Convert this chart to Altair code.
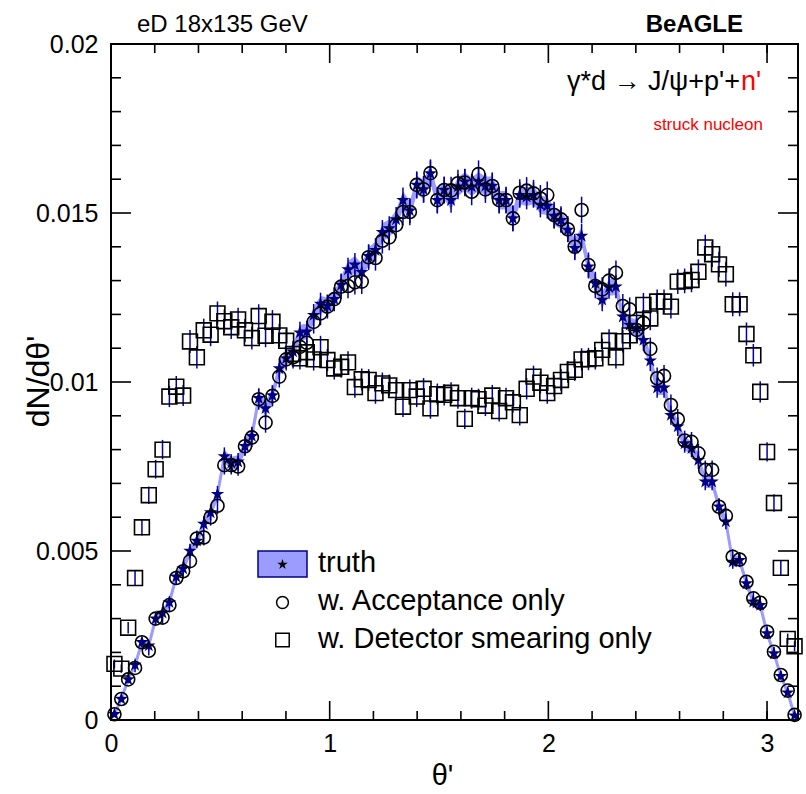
import math
import altair as alt
import pandas as pd

# ---------------- data ----------------
N_BINS = 100
THETA_MAX = math.pi

truth = [
    0.00017, 0.00062, 0.0012, 0.00163, 0.0023, 0.0022, 0.0030, 0.00317, 0.00348, 0.00424,
    0.00448, 0.0050, 0.0053, 0.0058, 0.00614, 0.00668, 0.0078, 0.0076, 0.00764, 0.0081,
    0.0084, 0.00952, 0.00922, 0.0096, 0.0104, 0.0107, 0.0109, 0.01146, 0.01149, 0.01198,
    0.01231, 0.01225, 0.01245, 0.01287, 0.01333, 0.01347, 0.01325, 0.01372, 0.0139, 0.01443,
    0.01454, 0.01481, 0.01538, 0.01507, 0.01583, 0.0157, 0.01617, 0.01538, 0.01568, 0.01538,
    0.01578, 0.01593, 0.01578, 0.01593, 0.0158, 0.0158, 0.01538, 0.01538, 0.01484, 0.01553,
    0.01548, 0.01553, 0.01524, 0.01521, 0.01491, 0.01479, 0.0145, 0.01396, 0.01432, 0.01341,
    0.01292, 0.01243, 0.0128, 0.01282, 0.01193, 0.01169, 0.01159, 0.01124, 0.01063, 0.00983,
    0.00983, 0.00902, 0.00868, 0.00818, 0.00804, 0.00769, 0.00705, 0.00705, 0.00631, 0.00587,
    0.00468, 0.00473, 0.00404, 0.0035, 0.0034, 0.00256, 0.00197, 0.0013, 0.00081, 0.00013,
]

acceptance = [
    0.00017, 0.00062, 0.0012, 0.00154, 0.0023, 0.00205, 0.0030, 0.00303, 0.0034, 0.0042,
    0.0044, 0.0047, 0.00537, 0.0054, 0.0060, 0.00634, 0.00754, 0.00754, 0.0075, 0.0081,
    0.00836, 0.00949, 0.0088, 0.00959, 0.01016, 0.01067, 0.01073, 0.01104, 0.01116, 0.01178,
    0.01203, 0.01223, 0.01245, 0.01282, 0.01284, 0.01295, 0.01297, 0.01369, 0.01367, 0.01418,
    0.01428, 0.01464, 0.01503, 0.01503, 0.01583, 0.0157, 0.01618, 0.01538, 0.01568, 0.01567,
    0.01588, 0.0159, 0.01563, 0.01615, 0.0157, 0.0158, 0.01538, 0.01538, 0.01484, 0.0156,
    0.01566, 0.01558, 0.01543, 0.01553, 0.01494, 0.01481, 0.01452, 0.0140, 0.01509, 0.01346,
    0.01284, 0.01274, 0.0130, 0.01323, 0.01225, 0.01215, 0.01154, 0.01175, 0.01098, 0.01011,
    0.01018, 0.00932, 0.0089, 0.00827, 0.00823, 0.00789, 0.0074, 0.0074, 0.00631, 0.00604,
    0.00483, 0.00475, 0.00409, 0.0036, 0.00347, 0.00261, 0.00202, 0.00133, 0.00087, 0.00015,
]

smearing = [
    0.00166, 0.00152, 0.00273, 0.0042, 0.0057, 0.00665, 0.00742, 0.0080, 0.00957, 0.00986,
    0.0096, 0.0112, 0.01073, 0.01153, 0.0114, 0.01203, 0.0118, 0.01162, 0.01185, 0.01153,
    0.0113, 0.01195, 0.01137, 0.01178, 0.01138, 0.01122, 0.01083, 0.0107, 0.01088, 0.01067,
    0.01103, 0.01065, 0.0104, 0.01045, 0.01058, 0.00985, 0.01008, 0.01006, 0.00967, 0.00996,
    0.0099, 0.00976, 0.00927, 0.00976, 0.00957, 0.0098, 0.00922, 0.00964, 0.00962, 0.00968,
    0.00952, 0.00891, 0.00952, 0.00949, 0.0093, 0.0096, 0.00914, 0.00952, 0.0094, 0.00902,
    0.0098, 0.01016, 0.00998, 0.00967, 0.00988, 0.01006, 0.0103, 0.01036, 0.01067, 0.01068,
    0.0107, 0.01095, 0.01122, 0.01073, 0.01121, 0.01138, 0.01175, 0.01228, 0.01188, 0.01238,
    0.01238, 0.01223, 0.01297, 0.01299, 0.01302, 0.01326, 0.01398, 0.01378, 0.01348, 0.01319,
    0.0123, 0.0123, 0.01142, 0.01079, 0.00971, 0.00793, 0.00642, 0.0045, 0.0024, 0.00218,
]

x_major = [0, 1, 2, 3]
x_minor = [0.2, 0.4, 0.6, 0.8, 1.2, 1.4, 1.6, 1.8, 2.2, 2.4, 2.6, 2.8, 3.0]
y_major = [0, 0.005, 0.01, 0.015, 0.02]
y_minor = [0.001, 0.002, 0.003, 0.004, 0.006, 0.007, 0.008, 0.009, 0.011, 0.012,
           0.013, 0.014, 0.016, 0.017, 0.018, 0.019]
legend_labels = ["truth", "w. Acceptance only", "w. Detector smearing only"]

# ---------------- styling ----------------
W, H = 687, 676
FONT = "Liberation Sans"
BAND = "#9c9cff"
NAVY = "#000080"
ERRC = "#0000a8"
STAR = ("M0,-1L0.225,-0.309L0.951,-0.309L0.363,0.118L0.588,0.809L0,0.382"
        "L-0.588,0.809L-0.363,0.118L-0.951,-0.309L-0.225,-0.309Z")

theta = [(i + 0.5) * THETA_MAX / N_BINS for i in range(N_BINS)]
df = pd.DataFrame({"theta": theta, "truth": truth, "acc": acceptance, "smear": smearing})

xs = alt.Scale(domain=[0, THETA_MAX], nice=False, zero=False)
ys = alt.Scale(domain=[0, 0.02], nice=False)

X_AX = alt.Axis(
    values=x_major, format="d", title="θ'", ticks=False, domain=False, grid=False,
    labelFlush=False, labelOverlap=False,
    labelFont=FONT, labelFontSize=25, labelColor="black", labelPadding=11,
    titleFont=FONT, titleFontSize=29, titleFontWeight="normal", titleColor="black",
    titleX=331, titleY=55, titleBaseline="middle", titleAlign="center")
Y_AX = alt.Axis(
    values=y_major, format="~g", title="dN/dθ'", ticks=False, domain=False, grid=False,
    labelFlush=False, labelOverlap=False,
    labelFont=FONT, labelFontSize=25, labelColor="black", labelPadding=13,
    titleFont=FONT, titleFontSize=32, titleFontWeight="normal", titleColor="black",
    titleX=-73, titleY=337, titleBaseline="middle", titleAlign="center", titleAngle=-90)


def xq(field):
    return alt.X(field, scale=xs, axis=X_AX, title="θ'")


def yq(field):
    return alt.Y(field, scale=ys, axis=Y_AX, title="dN/dθ'")


base = alt.Chart(df)

band = base.transform_calculate(
    lo="datum.truth - 0.0022*sqrt(datum.truth)",
    hi="datum.truth + 0.0022*sqrt(datum.truth)",
).mark_area(color=BAND, opacity=1).encode(x=xq("theta:Q"), y=yq("lo:Q"), y2="hi:Q")

line = base.mark_line(color=BAND, strokeWidth=3).encode(x=xq("theta:Q"), y=yq("truth:Q"))


def errbars(col, k):
    return base.transform_calculate(
        lo=f"datum.{col} - {k}*sqrt(datum.{col})",
        hi=f"datum.{col} + {k}*sqrt(datum.{col})",
    ).mark_rule(color=ERRC, strokeWidth=1.5).encode(x=xq("theta:Q"), y=yq("lo:Q"), y2="hi:Q")


err_t = errbars("truth", 0.003)
err_a = errbars("acc", 0.0032)
err_s = errbars("smear", 0.0032)

stars = base.mark_point(shape=STAR, filled=True, color=NAVY, size=200, opacity=1).encode(
    x=xq("theta:Q"), y=yq("truth:Q"))
circles = base.mark_point(shape="circle", filled=False, color="black", size=170,
                          strokeWidth=1.6, opacity=1).encode(x=xq("theta:Q"), y=yq("acc:Q"))
squares = base.mark_point(shape="square", filled=False, color="black", size=220,
                          strokeWidth=1.6, opacity=1).encode(x=xq("theta:Q"), y=yq("smear:Q"))


# ---------------- ticks (ROOT style, inside, all four sides) ----------------
def yticks(vals, length):
    d = alt.Chart(pd.DataFrame({"v": vals}))
    left = d.mark_rule(color="black", strokeWidth=1.6).encode(
        y=yq("v:Q"), x=alt.value(0), x2=alt.value(length))
    right = d.mark_rule(color="black", strokeWidth=1.6).encode(
        y=yq("v:Q"), x=alt.value(W - length), x2=alt.value(W))
    return left + right


def xticks(vals, length):
    d = alt.Chart(pd.DataFrame({"v": vals}))
    bottom = d.mark_rule(color="black", strokeWidth=1.6).encode(
        x=xq("v:Q"), y=alt.value(H), y2=alt.value(H - length))
    top = d.mark_rule(color="black", strokeWidth=1.6).encode(
        x=xq("v:Q"), y=alt.value(0), y2=alt.value(length))
    return bottom + top


ticks = yticks(y_major, 20) + yticks(y_minor, 10) + xticks(x_major, 19) + xticks(x_minor, 9)

# ---------------- legend ----------------
one = alt.Chart(pd.DataFrame({"k": [0]}))
leg_box = one.mark_rect(fill=BAND, stroke=NAVY, strokeWidth=1.5).encode(
    x=alt.value(147), x2=alt.value(196), y=alt.value(507), y2=alt.value(533))
leg_star = one.mark_point(shape=STAR, filled=True, color="black", size=120, opacity=1).encode(
    x=alt.value(171.5), y=alt.value(520.5))
leg_circ = one.mark_point(shape="circle", filled=False, color="black", size=140,
                          strokeWidth=1.5, opacity=1).encode(x=alt.value(171.5), y=alt.value(558.5))
leg_sq = one.mark_point(shape="square", filled=False, color="black", size=180,
                        strokeWidth=1.5, opacity=1).encode(x=alt.value(171.5), y=alt.value(596))
leg_text = alt.Chart(pd.DataFrame({"label": legend_labels, "yy": [528, 566, 604]})).mark_text(
    font=FONT, fontSize=29, align="left", baseline="alphabetic", color="black"
).encode(x=alt.value(207), y=alt.Y("yy:Q", scale=None), text="label:N")


# ---------------- annotations ----------------
def label(txt, x, y, size, color="black", align="left", weight="normal"):
    return one.mark_text(text=txt, font=FONT, fontSize=size, color=color, align=align,
                         baseline="alphabetic", fontWeight=weight).encode(
        x=alt.value(x), y=alt.value(y))


ann = (label("eD 18x135 GeV", 26, -12, 24)
       + label("BeAGLE", 632, -12, 24, align="right", weight="bold")
       + label("γ*d → J/ψ+p'+", 629, 46, 27, align="right")
       + label("n'", 630, 46, 27, color="red")
       + label("struck nucleon", 652, 86, 17, color="red", align="right"))

chart = alt.layer(
    band, line, err_t, err_a, err_s, stars, circles, squares, ticks,
    leg_box, leg_star, leg_circ, leg_sq, leg_text, ann,
).properties(
    width=W, height=H,
    padding={"left": 111, "top": 44, "right": 8, "bottom": 74},
    autosize=alt.AutoSizeParams(type="none"),
    background="white",
).configure_view(stroke="black", strokeWidth=2)

chart.save("out.html", embed_options={"renderer": "svg", "actions": False})
